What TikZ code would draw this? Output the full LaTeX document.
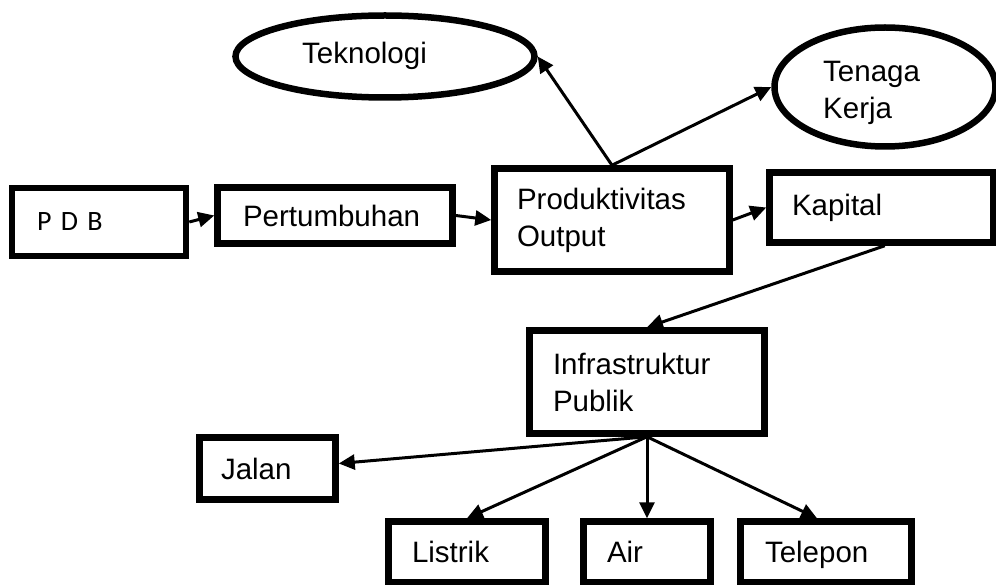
\documentclass[tikz,border=0pt]{standalone}
\usepackage{fontspec}
\setmainfont{Liberation Sans}
\newfontfamily\pdbfont{Carlito}
\usetikzlibrary{shapes.geometric,arrows.meta}
\tikzset{
  box/.style={draw, line width=6.5pt, rectangle, inner ysep=0pt, align=left,
    font=\fontsize{29.5}{37}\selectfont},
  oval/.style={draw, line width=6.5pt, ellipse, inner sep=0pt},
  txt/.style={inner sep=0pt, align=left, font=\fontsize{29.5}{37}\selectfont},
  conn/.style={line width=3pt, -{Triangle[length=16pt,width=15pt]}},
}
\begin{document}
\begin{tikzpicture}[x=1pt,y=-1pt]
\useasboundingbox (0,0) rectangle (996,585);
% boxes: center, size, inner xsep = text offset, text width
\node[box, minimum width=174pt, minimum height=68pt, inner xsep=25pt, text width=124pt,
  font=\pdbfont\fontsize{28}{34}\selectfont] (pdb) at (99,222) {P D B};
\node[box, minimum width=235pt, minimum height=56pt, inner xsep=25.5pt, text width=184pt] (pert) at (335,215.5) {Pertumbuhan};
\node[box, minimum width=235pt, minimum height=103pt, inner xsep=22.5pt, text width=190pt] (prod) at (612,220) {Produktivitas\\Output};
\node[box, minimum width=223.5pt, minimum height=70pt, inner xsep=22.5pt, text width=178.5pt] (kap) at (881.25,207.5) {Kapital};
\node[box, minimum width=235pt, minimum height=103pt, inner xsep=23.5pt, text width=188pt] (infra) at (647,382) {Infrastruktur\\Publik};
\node[box, minimum width=136pt, minimum height=62pt, inner xsep=21.5pt, text width=93pt] (jalan) at (267.5,468.5) {Jalan};
\node[box, minimum width=157pt, minimum height=60.5pt, inner xsep=23.5pt, text width=110pt] (listrik) at (467,551.75) {Listrik};
\node[box, minimum width=127pt, minimum height=60.5pt, inner xsep=23.5pt, text width=80pt] (air) at (647,551.75) {Air};
\node[box, minimum width=171pt, minimum height=60.5pt, inner xsep=24.5pt, text width=122pt, text depth=0pt] (tel) at (826,551.75) {Telepon};
% ellipses
\node[oval, minimum width=299pt, minimum height=82pt] (tek) at (385,56.5) {};
\node[txt, anchor=base west] (tekt) at (302,64) {Teknologi};
\node[oval, minimum width=221pt, minimum height=119pt] (tk) at (885,87) {};
\node[txt, anchor=west] (tkt) at (823,93) {Tenaga\\Kerja};
% connectors
\draw[conn] (pdb.east) -- (pert.west);
\draw[conn] (pert.east) -- (prod.west);
\draw[conn] (prod.east) -- (kap.west);
\draw[conn] ([xshift=118.5pt]kap.south west) -- (infra.north);
\draw[conn] (prod.north) -- (tek.east);
\draw[conn] (prod.north) -- (tk.west);
\draw[conn] (infra.south) -- ([yshift=5pt]jalan.east);
\draw[conn] (infra.south) -- (listrik.north);
\draw[conn] (infra.south) -- (air.north);
\draw[conn] (infra.south) -- ([xshift=-9pt]tel.north);
\end{tikzpicture}
\end{document}
